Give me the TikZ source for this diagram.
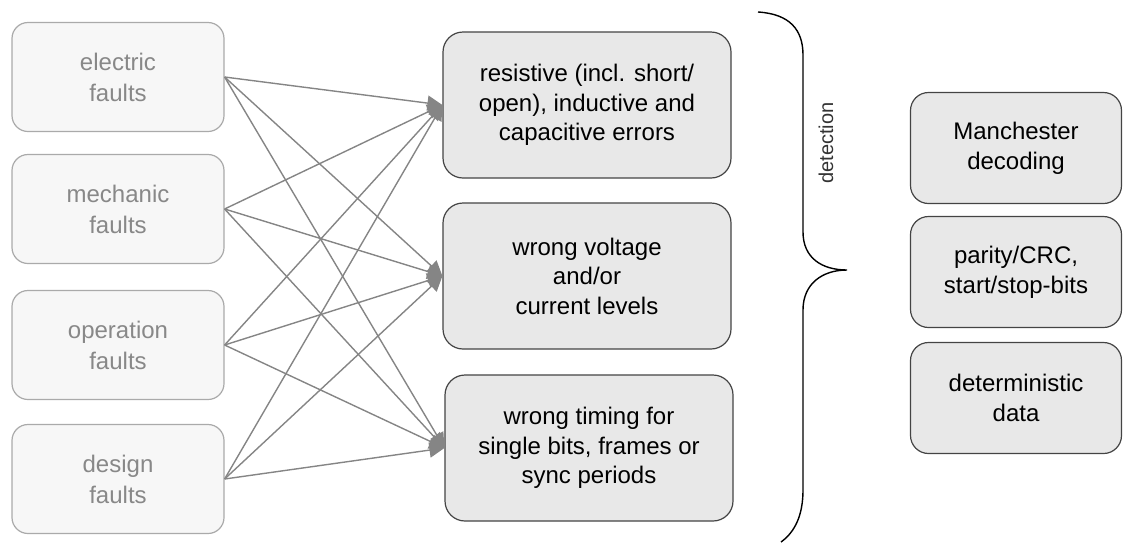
\documentclass[tikz,border=0pt]{standalone}
\usepackage{fontspec}
\setmainfont{Liberation Sans}
\usetikzlibrary{arrows.meta}
\definecolor{lgray}{HTML}{888888}
\definecolor{lfill}{HTML}{F7F7F7}
\definecolor{lborder}{HTML}{AAAAAA}
\definecolor{mfill}{HTML}{E8E8E8}
\definecolor{mborder}{HTML}{444444}
\definecolor{arrowgray}{HTML}{858585}
\tikzset{
  faultbox/.style={draw=lborder, fill=lfill, line width=1.2pt, rounded corners=16pt,
    minimum width=212pt, minimum height=109pt, inner sep=0pt, align=center,
    text=lgray, font=\fontsize{24}{31}\selectfont},
  errbox/.style={draw=mborder, fill=mfill, line width=1.2pt, rounded corners=20pt,
    minimum width=288pt, minimum height=146pt, inner sep=0pt, align=center,
    text=black, font=\fontsize{24}{29.5}\selectfont},
  detbox/.style={draw=mborder, fill=mfill, line width=1.2pt, rounded corners=18pt,
    minimum width=211pt, minimum height=111pt, inner sep=0pt, align=center,
    text=black, font=\fontsize{24}{30}\selectfont},
  link/.style={draw=arrowgray, line width=1.4pt,
    -{Triangle[length=15pt,width=15pt,fill=arrowgray]}},
}
\begin{document}
\begin{tikzpicture}[x=1pt,y=-1pt]
\useasboundingbox (0,0) rectangle (1123,542);
% left fault boxes
\node[faultbox] (l1) at (118,77) {electric\\faults};
\node[faultbox] (l2) at (118,209) {mechanic\\faults};
\node[faultbox] (l3) at (118,345) {operation\\faults};
\node[faultbox] (l4) at (118,479) {design\\faults};
% middle error boxes
\node[errbox] (m1) at (587,105) {resistive (incl. short/\\open), inductive and\\capacitive errors};
\node[errbox] (m2) at (587,276) {wrong voltage\\and/or\\current levels};
\node[errbox] (m3) at (589,448) {wrong timing for\\single bits, frames or\\sync periods};
% right detection boxes
\node[detbox] (r1) at (1016,148) {Manchester\\decoding};
\node[detbox] (r2) at (1016,272) {parity/CRC,\\start/stop-bits};
\node[detbox] (r3) at (1016,398) {deterministic\\data};
% connectors
\foreach \s in {l1,l2,l3,l4}{
  \foreach \t in {m1,m2,m3}{
    \draw[link] (\s.east) -- (\t.west);
  }
}
% brace
\draw[black, line width=1.4pt] (758,12) .. controls (790,14) and (803,30) .. (803,55)
  -- (803,232) .. controls (803,258) and (822,270) .. (847,270)
  .. controls (822,270) and (803,284) .. (803,310)
  -- (803,490) .. controls (803,515) and (795,532) .. (781,542);
\node[rotate=90, text=black!80, font=\fontsize{20}{24}\selectfont] (det) at (826,143) {detection};
\end{tikzpicture}
\end{document}
